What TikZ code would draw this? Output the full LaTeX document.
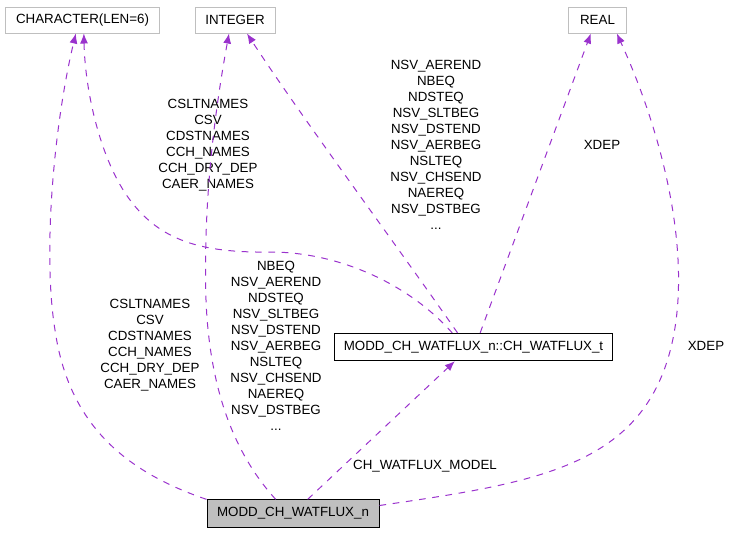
\documentclass[tikz,border=0pt]{standalone}
\usepackage{fontspec}
\setmainfont{Liberation Sans}
\usetikzlibrary{arrows.meta}
\usepackage{xcolor}
\definecolor{edgepurple}{HTML}{9A32CD}
\definecolor{boxgray}{HTML}{BFBFBF}

\begin{document}
\begin{tikzpicture}[x=0.75pt,y=-0.75pt,
    font=\fontsize{10}{12}\selectfont,
    typebox/.style={draw=boxgray,line width=0.75pt,minimum height=19.5pt,inner sep=0pt},
    classbox/.style={draw=black,line width=0.75pt,minimum height=20.5pt,inner sep=0pt},
    uses/.style={draw=edgepurple,line width=0.75pt,dash pattern=on 5pt off 5pt,
        -{Latex[length=7.5pt,width=6pt]},shorten >=0pt},
    lbl/.style={align=center,inner sep=0pt}]
    \useasboundingbox (0,0) rectangle (733,533);
    % the three basic types at the top
    \foreach \name/\txt/\x/\w in {char/{CHARACTER(LEN=6)}/82.5/116pt, int/{INTEGER}/235/60pt, real/{REAL}/597.5/43pt}{
        \node[typebox,minimum width=\w] (\name) at (\x,20) {\txt};
    }
    \node[classbox,minimum width=209pt] (cht) at (473.5,347) {MODD\_CH\_WATFLUX\_n::CH\_WATFLUX\_t};
    \node[classbox,fill=boxgray,minimum width=129pt] (modd) at (293,513.5) {MODD\_CH\_WATFLUX\_n};
    % edge labels
    \node[lbl] (l1) at (150,345) {CSLTNAMES\\CSV\\CDSTNAMES\\CCH\_NAMES\\CCH\_DRY\_DEP\\CAER\_NAMES};
    \node[lbl] (l2) at (208,145) {CSLTNAMES\\CSV\\CDSTNAMES\\CCH\_NAMES\\CCH\_DRY\_DEP\\CAER\_NAMES};
    \node[lbl] (l3) at (276,346) {NBEQ\\NSV\_AEREND\\NDSTEQ\\NSV\_SLTBEG\\NSV\_DSTEND\\NSV\_AERBEG\\NSLTEQ\\NSV\_CHSEND\\NAEREQ\\NSV\_DSTBEG\\...};
    \node[lbl] (l4) at (436,145) {NSV\_AEREND\\NBEQ\\NDSTEQ\\NSV\_SLTBEG\\NSV\_DSTEND\\NSV\_AERBEG\\NSLTEQ\\NSV\_CHSEND\\NAEREQ\\NSV\_DSTBEG\\...};
    \node[lbl] (l5) at (602,145) {XDEP};
    \node[lbl] (l6) at (706,346) {XDEP};
    \node[lbl] (l7) at (425,466) {CH\_WATFLUX\_MODEL};
    % members of MODD_CH_WATFLUX_n
    \draw[uses] (modd.north west) .. controls (120,470) and (68,420) .. (55,330)
        .. controls (42,250) and (55,120) .. ([xshift=-5pt]char.south);
    \draw[uses] ([xshift=-13pt]modd.north) .. controls (240,460) and (210,400) .. (206,300)
        .. controls (203,200) and (215,110) .. ([xshift=-4.5pt]int.south);
    \draw[uses] ([xshift=11pt]modd.north) -- ([xshift=-14pt]cht.south);
    \draw[uses] ([yshift=6pt]modd.east) .. controls (520,485) and (620,470) .. (660,380)
        .. controls (700,290) and (670,150) .. ([xshift=14.5pt]real.south);
    % members of CH_WATFLUX_t
    \draw[uses] ([xshift=-16pt]cht.north) .. controls (410,285) and (340,252) .. (270,252)
        .. controls (200,253) and (160,240) .. (130,200)
        .. controls (100,160) and (85,90) .. ([xshift=1pt]char.south);
    \draw[uses] ([xshift=-12pt]cht.north) .. controls (400,250) and (300,115) .. ([xshift=9pt]int.south);
    \draw[uses] ([xshift=5pt]cht.north) -- ([xshift=-5pt]real.south);
\end{tikzpicture}
\end{document}
